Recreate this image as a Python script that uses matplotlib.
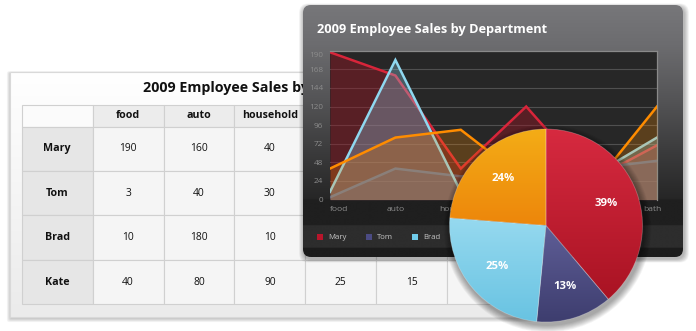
import numpy as np
import matplotlib
matplotlib.use('Agg')
import matplotlib.pyplot as plt
from matplotlib.patches import FancyBboxPatch, Rectangle, Circle
import matplotlib.transforms as mtransforms

# ---------------- data ----------------
categories = ['food', 'auto', 'household', 'furniture', 'kitchen', 'bath']
employees = ['Mary', 'Tom', 'Brad', 'Kate']
mary = [190, 160, 40, 120, 25, 70]
tom = [3, 40, 30, 35, 40, 50]
brad = [10, 180, 10, 75, 30, 80]
kate = [40, 80, 90, 25, 15, 120]
yticks = [24, 48, 72, 96, 120, 144, 168]
ytick_labels = [0, 24, 48, 72, 96, 120, 144, 168, 190]
title = '2009 Employee Sales by Department'

series = [mary, tom, brad, kate]

# ---------------- styles ----------------
line_colors = ['#d8253a', '#55557f', '#8fd8f0', '#ff8c00']
fill_colors = ['#9c1424', '#4a4a80', '#8fd8f0', '#ff8c00']
fill_alpha = [0.42, 0.30, 0.30, 0.24]
legend_colors = ['#b8152b', '#4b4b83', '#6fcbea', '#f39a0c']
pie_top = ['#d72a40', '#5f5e97', '#96d9ef', '#f4ad16']
pie_bot = ['#a91323', '#3d3d6e', '#68c3e2', '#ed860b']

W, H = 696, 331
plt.rcParams['font.family'] = ['Open Sans', 'DejaVu Sans']
fig = plt.figure(figsize=(W / 100, H / 100), dpi=100)
fig.patch.set_facecolor('white')


def pix_axes(x0, y0, x1, y1, z):
    return fig.add_axes([x0 / W, 1 - y1 / H, (x1 - x0) / W, (y1 - y0) / H], zorder=z)


def canvas(z):
    ax = pix_axes(0, 0, W, H, z)
    ax.axis('off')
    ax.patch.set_alpha(0)
    return ax


def fix(ax):
    ax.set_xlim(0, W)
    ax.set_ylim(H, 0)


def hex2rgb(h):
    h = h.lstrip('#')
    return tuple(int(h[i:i + 2], 16) for i in (0, 2, 4))


def vgrad(stops, n=512):
    pos = np.array([s[0] for s in stops], float)
    cols = np.array([s[1] for s in stops], float) / 255.0
    t = np.linspace(pos[0], pos[-1], n)
    arr = np.stack([np.interp(t, pos, cols[:, i]) for i in range(3)], axis=-1)
    return arr[:, None, :]


# ---------------- table panel ----------------
ax1 = canvas(1)
px0, py0, px1, py1 = 10, 71.5, 530, 317
for k in range(1, 7):
    ax1.add_patch(FancyBboxPatch((px0 - k * 0.6 + 0.5, py0 - k * 0.3 + 1.5), (px1 - px0) + k * 1.2,
                                 (py1 - py0) + k * 0.9,
                                 boxstyle='round,pad=0,rounding_size=2', fc='black', ec='none',
                                 alpha=0.035, zorder=0.5))
panel = Rectangle((px0, py0), px1 - px0, py1 - py0, fc='none', ec='#d9d9d9', lw=0.8, zorder=2)
ax1.add_patch(panel)
im = ax1.imshow(vgrad([(py0, (255, 255, 255)), (py1, (235, 235, 235))]),
                extent=[px0, px1, py1, py0], origin='upper', aspect='auto', zorder=1,
                interpolation='bilinear')
im.set_clip_path(panel)

ax1.text(143, 88, title, ha='left', va='center', fontsize=10.3, fontweight='bold', color='#111111',
         zorder=6)

cell_text = [[''] + categories] + [[name] + [str(v) for v in s] for name, s in zip(employees, series)]
tx0, ty0, tx1, ty1 = 21.7, 105, 518, 304.3
tbl = ax1.table(cellText=cell_text, cellLoc='center',
                bbox=[tx0 / W, 1 - ty1 / H, (tx1 - tx0) / W, (ty1 - ty0) / H], zorder=5)
tbl.auto_set_font_size(False)
for (r, c), cell in tbl.get_celld().items():
    cell.set_edgecolor('#d0d0d0')
    cell.set_linewidth(0.8)
    cell.set_height(21.7 if r == 0 else 44.4)
    t = cell.get_text()
    t.set_color('#111111')
    if r == 0 and c == 0:
        cell.set_facecolor('#fbfbfb')
    elif r == 0:
        cell.set_facecolor('#ececec')
        t.set_fontweight('bold')
        t.set_fontsize(7.7)
    elif c == 0:
        cell.set_facecolor('#e6e6e6')
        t.set_fontweight('bold')
        t.set_fontsize(7.7)
    else:
        cell.set_facecolor('#f5f5f5')
        t.set_fontsize(7.4)
fix(ax1)

# ---------------- dark chart panel ----------------
ax2 = canvas(2)
dx0, dy0, dx1, dy1 = 303, 5, 683, 257
for k in range(1, 8):
    ax2.add_patch(FancyBboxPatch((dx0 - k * 0.7 + 1, dy0 - k * 0.5 + 2), (dx1 - dx0) + k * 1.4,
                                 (dy1 - dy0) + k * 1.0,
                                 boxstyle='round,pad=0,rounding_size=9', fc='black', ec='none',
                                 alpha=0.045, zorder=0.5))
dpanel = FancyBboxPatch((dx0, dy0), dx1 - dx0, dy1 - dy0, boxstyle='round,pad=0,rounding_size=8',
                        fc='none', ec='none', zorder=2)
ax2.add_patch(dpanel)
stops = [(5, (119, 119, 122)), (45, (108, 108, 111)), (100, (84, 84, 86)), (150, (60, 60, 61)),
         (199, (38, 38, 38)), (199.7, (31, 31, 31)), (225, (31, 31, 31)), (225.6, (45, 45, 45)),
         (247.5, (45, 45, 45)), (248.2, (28, 28, 28)), (257, (28, 28, 28))]
im2 = ax2.imshow(vgrad(stops, n=1024), extent=[dx0, dx1, dy1, dy0], origin='upper', aspect='auto',
                 zorder=1, interpolation='bilinear')
im2.set_clip_path(dpanel)
ax2.text(317, 29, title, ha='left', va='center', fontsize=9.2, fontweight='bold', color='white', zorder=3)

legend_x = [316.7, 365.7, 411.7, 458]
for name, col, lx in zip(employees, legend_colors, legend_x):
    ax2.add_patch(Rectangle((lx, 234.2), 6, 6, fc=col, ec='none', zorder=3))
    ax2.text(lx + 11.5, 237.4, name, ha='left', va='center', fontsize=5.6, color='#c4c4c4', zorder=3)
fix(ax2)

# ---------------- area/line chart ----------------
ax3 = pix_axes(330, 50.7, 657, 199.6, 3)
ax3.set_facecolor('#272727')
x = np.arange(len(categories))
for yv in yticks:
    ax3.axhline(yv, color='#505050', lw=0.8, zorder=0.5)
for i, s in enumerate(series):
    ax3.fill_between(x, 0, s, color=fill_colors[i], alpha=fill_alpha[i], lw=0, zorder=2 * i + 1)
    ax3.plot(x, s, color=line_colors[i], lw=1.8, zorder=2 * i + 2, solid_joinstyle='miter')
ax3.set_xlim(0, len(categories) - 1)
ax3.set_ylim(0, 192)
ax3.set_xticks([])
ax3.set_yticks([])
for sp in ['left', 'bottom']:
    ax3.spines[sp].set_visible(False)
for sp in ['top', 'right']:
    ax3.spines[sp].set_color('#8a8a8a')
    ax3.spines[sp].set_linewidth(0.9)

xform = mtransforms.blended_transform_factory(ax3.transData, ax3.transAxes)
for i, cat in enumerate(categories):
    ha = 'left' if i == 0 else 'center'
    tr = xform
    if i == len(categories) - 1:
        tr = xform + mtransforms.ScaledTranslation(-5 / 100, 0, fig.dpi_scale_trans)
    ax3.text(i, -0.065, cat, transform=tr, ha=ha, va='center', fontsize=6.1, color='#8c8c8c',
             clip_on=False)
yform = mtransforms.blended_transform_factory(ax3.transAxes, ax3.transData)
for v in ytick_labels:
    tr = yform + mtransforms.ScaledTranslation(-7 / 100, (-3.5 if v == 190 else -1) / 100, fig.dpi_scale_trans)
    ax3.text(0, v, str(v), transform=tr, ha='right', va='center', fontsize=5.9, color='#8c8c8c',
             clip_on=False)

# ---------------- pie ----------------
cx, cy, half = 546, 225.5, 125
ax4 = pix_axes(cx - half, cy - half, cx + half, cy + half, 4)
ax4.patch.set_alpha(0)
totals = [sum(s) for s in series]
R = 0.965
wedges, texts, autotexts = ax4.pie(totals, startangle=90, counterclock=False, radius=R,
                                   autopct=lambda p: f'{p:.0f}%', pctdistance=0.66,
                                   textprops=dict(color='white', fontweight='bold', fontsize=8.2))
for k in range(1, 10):
    ax4.add_patch(Circle((0.015, -0.03), R + 0.008 * k, fc='black', ec='none', alpha=0.045, zorder=0))
for i, w in enumerate(wedges):
    verts = w.get_path().vertices
    ymin, ymax = verts[:, 1].min(), verts[:, 1].max()
    img = ax4.imshow(vgrad([(0, hex2rgb(pie_top[i])), (1, hex2rgb(pie_bot[i]))]),
                     extent=[-1.1, 1.1, ymin, ymax], origin='upper', aspect='auto', zorder=1.5,
                     interpolation='bilinear')
    img.set_clip_path(w)
    w.set_facecolor('none')
    w.set_edgecolor((1, 1, 1, 0.25))
    w.set_linewidth(0.6)
    w.set_zorder(2)
for t in autotexts:
    t.set_zorder(3)
ax4.set_xlim(-1.25, 1.25)
ax4.set_ylim(-1.25, 1.25)
ax4.set_aspect('equal')
ax4.axis('off')

fig.savefig('out.png', dpi=100, facecolor='white')
